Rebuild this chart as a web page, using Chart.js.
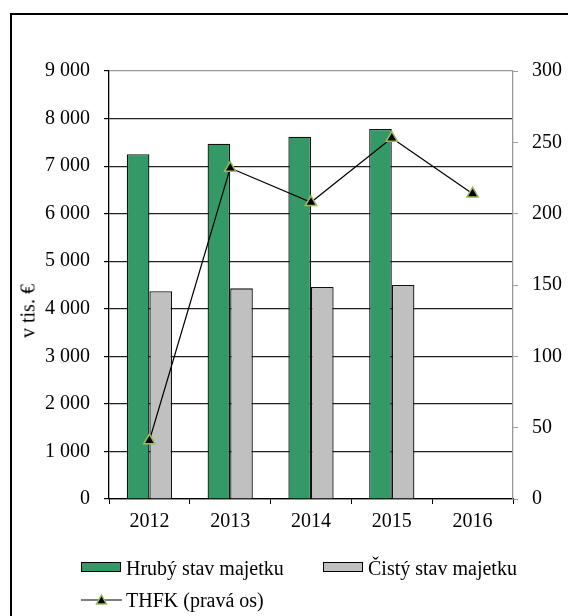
<!DOCTYPE html>
<html>
<head>
<meta charset="utf-8">
<script src="https://cdn.jsdelivr.net/npm/chart.js@4"></script>
<style>
  body { margin: 0; background: #fff; font-family: "Liberation Serif", serif; }
  #wrap { position: relative; width: 568px; height: 616px; overflow: hidden; }
  #frame { position: absolute; left: 10px; top: 13px; width: 600px; height: 650px;
           border-left: 2px solid #000; border-top: 2px solid #000; }
  canvas { position: absolute; left: 0; top: 0; }
  #ytitle { position: absolute; left: 28px; top: 311px; font-size: 20px; color: #000;
            transform: translate(-50%, -50%) rotate(-90deg); white-space: nowrap; }
  .lg { position: absolute; font-size: 20px; color: #000; white-space: nowrap; line-height: 24px; }
  .sw { position: absolute; width: 38px; height: 8px; border: 1.5px solid #000; }
</style>
</head>
<body>
<div id="wrap">
  <div id="frame"></div>
  <canvas id="chart" width="568" height="616"></canvas>
  <div id="ytitle">v tis. €</div>
  <div class="sw" style="left:81px; top:562px; background:#339966;"></div>
  <div class="lg" style="left:126px; top:556px;">Hrubý stav majetku</div>
  <div class="sw" style="left:323px; top:562px; background:#c0c0c0;"></div>
  <div class="lg" style="left:368px; top:556px;">Čistý stav majetku</div>
  <svg style="position:absolute; left:81px; top:592px;" width="42" height="16">
    <line x1="0" y1="8" x2="41" y2="8" stroke="#000" stroke-width="1.2"/>
    <polygon points="20.5,3 25.5,12 15.5,12" fill="#000" stroke="#9bbb59" stroke-width="1.5"/>
  </svg>
  <div class="lg" style="left:126px; top:588px;">THFK (pravá os)</div>
</div>
<script>
// data
const years = ['2012', '2013', '2014', '2015', '2016'];
const hrubyStav = [7250, 7470, 7620, 7780, null];
const cistyStav = [4370, 4430, 4460, 4500, null];
const thfk = [41, 232, 208, 253, 214];

const font = { family: "'Liberation Serif', 'Times New Roman', serif", size: 20 };

function fmt(v) {
    return String(v).replace(/\B(?=(\d{3})+(?!\d))/g, ' ');
}

const ctx = document.getElementById('chart').getContext('2d');
new Chart(ctx, {
    type: 'bar',
    data: {
        labels: years,
        datasets: [{
            type: 'line',
            label: 'THFK (pravá os)',
            data: thfk,
            yAxisID: 'y1',
            borderColor: '#000',
            borderWidth: 1.2,
            pointStyle: 'triangle',
            pointRadius: 6.5,
            pointBackgroundColor: '#000',
            pointBorderColor: '#9bbb59',
            pointBorderWidth: 1.5,
            tension: 0,
            order: 0
        }, {
            label: 'Hrubý stav majetku',
            data: hrubyStav,
            yAxisID: 'y',
            backgroundColor: '#339966',
            borderColor: '#111',
            borderWidth: 1.3,
            categoryPercentage: 0.56,
            barPercentage: 1.0,
            order: 1
        }, {
            label: 'Čistý stav majetku',
            data: cistyStav,
            yAxisID: 'y',
            backgroundColor: '#c0c0c0',
            borderColor: '#111',
            borderWidth: 1.3,
            categoryPercentage: 0.56,
            barPercentage: 1.0,
            order: 1
        }]
    },
    options: {
        responsive: false,
        animation: false,
        layout: { padding: { top: 71, left: 0, right: 0, bottom: 0 } },
        plugins: {
            legend: { display: false },
            tooltip: { enabled: false }
        },
        scales: {
            x: {
                offset: true,
                afterFit: s => { s.height = 117; },
                grid: { offset: true, drawOnChartArea: false, tickLength: 5, color: '#000' },
                border: { color: '#000', width: 1.3 },
                ticks: { font: font, color: '#000', padding: 6, maxRotation: 0 }
            },
            y: {
                position: 'left',
                min: 0, max: 9000,
                afterFit: s => { s.width = 109; },
                grid: {
                    color: c => c.tick.value === 9000 ? '#999' : '#222',
                    lineWidth: 1.2,
                    tickColor: '#000',
                    tickLength: 5
                },
                border: { color: '#000', width: 1.3 },
                ticks: { stepSize: 1000, font: font, color: '#000', padding: 14, callback: v => fmt(v) }
            },
            y1: {
                position: 'right',
                min: 0, max: 300,
                afterFit: s => { s.width = 55; },
                grid: { drawOnChartArea: false, tickLength: 5, color: '#999' },
                border: { color: '#999', width: 1.3 },
                ticks: { stepSize: 50, font: font, color: '#000', padding: 14 }
            }
        }
    }
});
</script>
</body>
</html>
